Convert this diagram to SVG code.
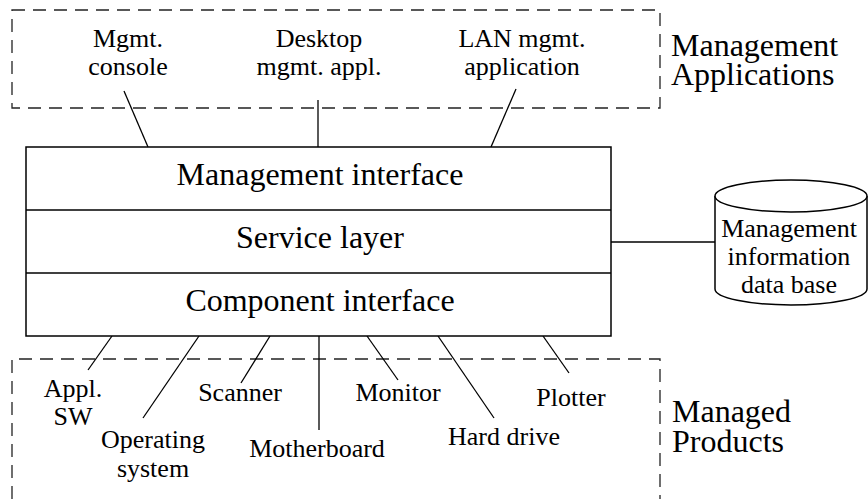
<svg xmlns="http://www.w3.org/2000/svg" width="868" height="499" viewBox="0 0 868 499">
<style>
  text { fill: #000; }
  .f { font-family: 'Liberation Serif'; }
  .dash { fill: none; stroke: #222; stroke-width: 1.3; stroke-dasharray: 13 8; }
  .box { fill: #fff; stroke: #000; stroke-width: 1.5; }
  .ln { stroke: #000; stroke-width: 1.3; fill: none; }
</style>
<g id="group-apps">
  <rect class="dash" x="12" y="10" width="648" height="98"/>
  <text class="f" font-size="32" x="671" y="56">Management</text>
  <text class="f" font-size="32" x="671" y="85">Applications</text>
</g>
<g id="group-products">
  <path class="dash" d="M12,499 V359 H660 V499"/>
  <text class="f" font-size="32" x="672" y="422">Managed</text>
  <text class="f" font-size="32" x="672" y="452">Products</text>
</g>
<g id="connectors">
  <line class="ln" x1="124" y1="91" x2="148" y2="147"/>
  <line class="ln" x1="318" y1="100" x2="318" y2="147"/>
  <line class="ln" x1="516" y1="89" x2="491" y2="147"/>
  <line class="ln" x1="611" y1="242" x2="715" y2="242"/>
  <line class="ln" x1="112" y1="336" x2="88" y2="370"/>
  <line class="ln" x1="199" y1="336" x2="143" y2="418"/>
  <line class="ln" x1="270" y1="336" x2="241" y2="383"/>
  <line class="ln" x1="319" y1="336" x2="319" y2="430"/>
  <line class="ln" x1="367" y1="336" x2="398" y2="380"/>
  <line class="ln" x1="438" y1="336" x2="494" y2="418"/>
  <line class="ln" x1="543" y1="336" x2="569" y2="373"/>
</g>
<g id="node-mgmt-console">
  <text class="f" font-size="26" text-anchor="middle" x="128" y="47">Mgmt.</text>
  <text class="f" font-size="26" text-anchor="middle" x="128" y="75">console</text>
</g>
<g id="node-desktop">
  <text class="f" font-size="26" text-anchor="middle" x="319" y="47">Desktop</text>
  <text class="f" font-size="26" text-anchor="middle" x="319" y="75">mgmt. appl.</text>
</g>
<g id="node-lan">
  <text class="f" font-size="26" text-anchor="middle" x="522" y="47">LAN mgmt.</text>
  <text class="f" font-size="26" text-anchor="middle" x="522" y="75">application</text>
</g>
<g id="node-stack">
  <rect class="box" x="26" y="147" width="585" height="189"/>
  <line class="ln" x1="26" y1="210" x2="611" y2="210" stroke-width="1.5"/>
  <line class="ln" x1="26" y1="273" x2="611" y2="273" stroke-width="1.5"/>
  <text class="f" font-size="32" text-anchor="middle" x="320" y="185">Management interface</text>
  <text class="f" font-size="32" text-anchor="middle" x="320" y="248">Service layer</text>
  <text class="f" font-size="32" text-anchor="middle" x="320" y="311">Component interface</text>
</g>
<g id="node-db">
  <path class="box" d="M715,196 V289 A76,16 0 0 0 867,289 V196"/>
  <ellipse class="box" cx="791" cy="196" rx="76" ry="16"/>
  <text class="f" font-size="26" text-anchor="middle" x="789" y="237">Management</text>
  <text class="f" font-size="26" text-anchor="middle" x="789" y="265">information</text>
  <text class="f" font-size="26" text-anchor="middle" x="789" y="293">data base</text>
</g>
<g id="node-appl-sw">
  <text class="f" font-size="26" text-anchor="middle" x="73" y="397">Appl.</text>
  <text class="f" font-size="26" text-anchor="middle" x="73" y="425">SW</text>
</g>
<g id="node-os">
  <text class="f" font-size="26" text-anchor="middle" x="153" y="448">Operating</text>
  <text class="f" font-size="26" text-anchor="middle" x="153" y="477">system</text>
</g>
<g id="node-scanner"><text class="f" font-size="26" text-anchor="middle" x="240" y="401">Scanner</text></g>
<g id="node-motherboard"><text class="f" font-size="26" text-anchor="middle" x="317" y="457">Motherboard</text></g>
<g id="node-monitor"><text class="f" font-size="26" text-anchor="middle" x="398" y="401">Monitor</text></g>
<g id="node-hard-drive"><text class="f" font-size="26" text-anchor="middle" x="504" y="445">Hard drive</text></g>
<g id="node-plotter"><text class="f" font-size="26" text-anchor="middle" x="571" y="406">Plotter</text></g>
</svg>
